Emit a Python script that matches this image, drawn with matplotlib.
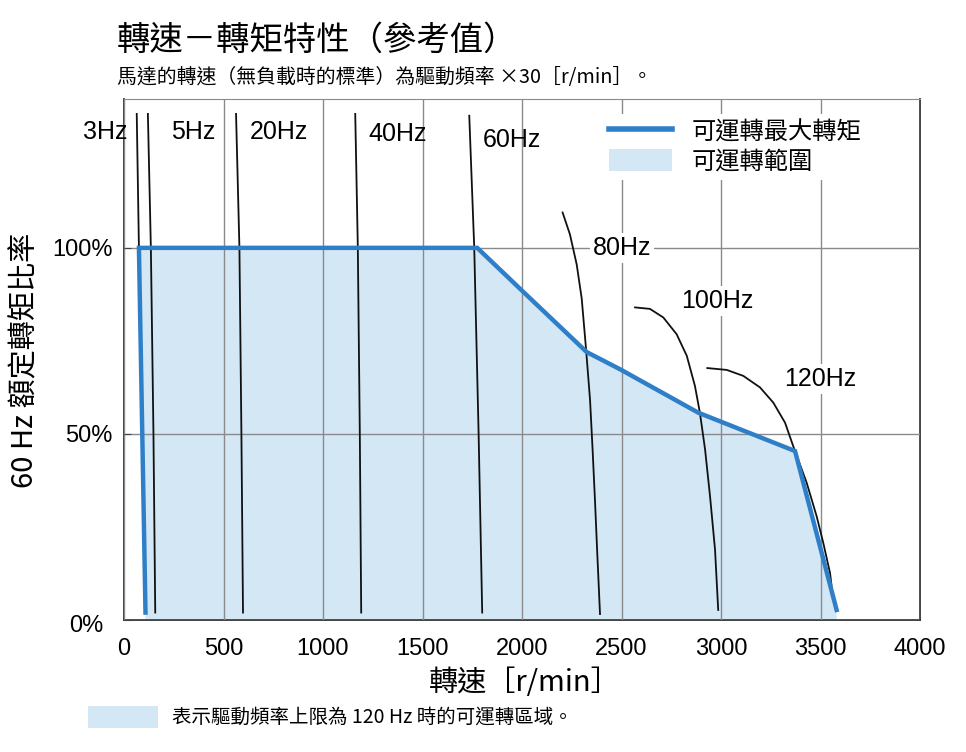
import matplotlib
matplotlib.use("Agg")
import matplotlib.pyplot as plt
from matplotlib.lines import Line2D
from matplotlib.patches import Patch, Rectangle
from matplotlib.transforms import ScaledTranslation

cjk = ['Noto Sans CJK TC', 'DejaVu Sans']
num = ['Liberation Sans', 'DejaVu Sans']
plt.rcParams['font.family'] = cjk

# 可運轉最大轉矩 (rpm, %)
max_rpm = [108, 75, 1775, 2000, 2325, 2492, 2886, 3372, 3581]
max_torque = [2, 100, 100, 88.5, 72, 67.4, 55.7, 45.4, 2.7]

# 各驅動頻率的轉速-轉矩曲線
hz_names = ['3Hz', '5Hz', '20Hz', '40Hz', '60Hz', '80Hz', '100Hz', '120Hz']
curve_rpm = [
    [64, 75, 108],
    [120, 135, 148, 157],
    [563, 580, 590, 598],
    [1162, 1175, 1185, 1192],
    [1735, 1760, 1782, 1800],
    [2204, 2241, 2275, 2300, 2322, 2342, 2355, 2367, 2378, 2392],
    [2568, 2643, 2710, 2777, 2828, 2869, 2894, 2920, 2945, 2970, 2986],
    [2931, 3029, 3112, 3196, 3263, 3322, 3363, 3372, 3431, 3481, 3514, 3548, 3564],
]
curve_torque = [
    [136, 100, 2],
    [136, 100, 50, 2],
    [136, 100, 50, 2],
    [136, 100, 50, 2],
    [135.5, 100, 50, 2],
    [109.5, 103.6, 95.5, 86.4, 72.7, 59.1, 45.5, 31.8, 18.2, 1.6],
    [84.0, 83.6, 81.3, 76.8, 71.0, 62.9, 55.7, 45.8, 33.2, 18.9, 2.7],
    [67.7, 67.2, 65.6, 62.5, 58.4, 53.0, 46.7, 45.4, 36.8, 27.8, 20.7, 12.6, 5.4],
]
# 標籤位置 (rpm, %)
label_rpm = [-96, 347, 780, 1373, 1947, 2505, 2983, 3501]
label_torque = [131, 131, 131, 130.5, 129, 100, 85.7, 64.7]
label_boxed = [False, False, False, False, False, True, True, True]

x_ticks = [0, 500, 1000, 1500, 2000, 2500, 3000, 3500, 4000]
y_ticks = [0, 50, 100]
y_ticklabels = ['0%', '50%', '100%']

blue = '#2f7fc8'
fill_blue = '#d3e7f5'

fig = plt.figure(figsize=(9.66, 7.52), dpi=100)
ax = fig.add_axes([124/966, 1-620/752, (920-124)/966, (620-99)/752])

# 可運轉範圍
poly_x = max_rpm + [max_rpm[-1], max_rpm[0]]
poly_y = max_torque + [0, 0]
ax.fill(poly_x, poly_y, color=fill_blue, lw=0, zorder=1)

ax.set_xlim(0, 4000)
ax.set_ylim(0, 140)
ax.set_xticks(x_ticks)
ax.set_yticks(y_ticks)
ax.set_yticklabels(y_ticklabels)
ax.grid(True, color='#8a8a8a', lw=1, zorder=2)
ax.set_axisbelow(False)
for t in ax.get_xticklabels() + ax.get_yticklabels():
    t.set_family(num)
    t.set_fontsize(17)
ax.tick_params(axis='x', length=0, pad=13)
ax.tick_params(axis='y', length=5, pad=8, direction='in', color='#444444')
# 0% 標籤稍微往左下
lab0 = ax.get_yticklabels()[0]
lab0.set_transform(lab0.get_transform() + ScaledTranslation(-0.10, -0.04, fig.dpi_scale_trans))
for s in ['left', 'bottom', 'right']:
    ax.spines[s].set_color('#333333')
    ax.spines[s].set_linewidth(1.3)
ax.spines['top'].set_color('#8a8a8a')

for i in range(len(hz_names)):
    ax.plot(curve_rpm[i], curve_torque[i], color='#111111', lw=1.3, zorder=3,
            solid_joinstyle='round')
    kw = {}
    if label_boxed[i]:
        kw['bbox'] = dict(facecolor='white', edgecolor='none', pad=2)
    ax.text(label_rpm[i], label_torque[i], hz_names[i], family=num, fontsize=18,
            ha='center', va='center', zorder=4, clip_on=False, **kw)

ax.plot(max_rpm, max_torque, color=blue, lw=3.2, zorder=5, solid_joinstyle='miter')

handles = [Line2D([0], [0], color=blue, lw=4), Patch(facecolor=fill_blue, edgecolor='none')]
leg = fig.legend(handles, ['可運轉最大轉矩', '可運轉範圍'], loc='upper left',
                 bbox_to_anchor=(592/966, 1-102/752), frameon=True, fontsize=17.5,
                 handlelength=2.6, handleheight=1.0, handletextpad=0.8, labelspacing=0.15,
                 borderpad=0.2, fancybox=False)
leg.get_frame().set_facecolor('white')
leg.get_frame().set_edgecolor('none')
leg.get_frame().set_alpha(1)

fig.text(117/966, 1-40/752, '轉速－轉矩特性（參考值）', fontsize=24, va='center', ha='left')
fig.text(117/966, 1-77/752, '馬達的轉速（無負載時的標準）為驅動頻率 ×30［r/min］。',
         fontsize=14.3, va='center', ha='left')
fig.text(25/966, 1-360/752, '60 Hz 額定轉矩比率', fontsize=21, rotation=90,
         va='center', ha='center')
fig.text(525/966, 1-683/752, '轉速［r/min］', fontsize=21, va='center', ha='center')

fig.patches.append(Rectangle((88/966, 1-728/752), 70/966, 22/752, transform=fig.transFigure,
                             facecolor=fill_blue, edgecolor='none'))
fig.text(172/966, 1-717/752, '表示驅動頻率上限為 120 Hz 時的可運轉區域。', fontsize=14,
         va='center', ha='left')

fig.savefig('out.png', dpi=100)
